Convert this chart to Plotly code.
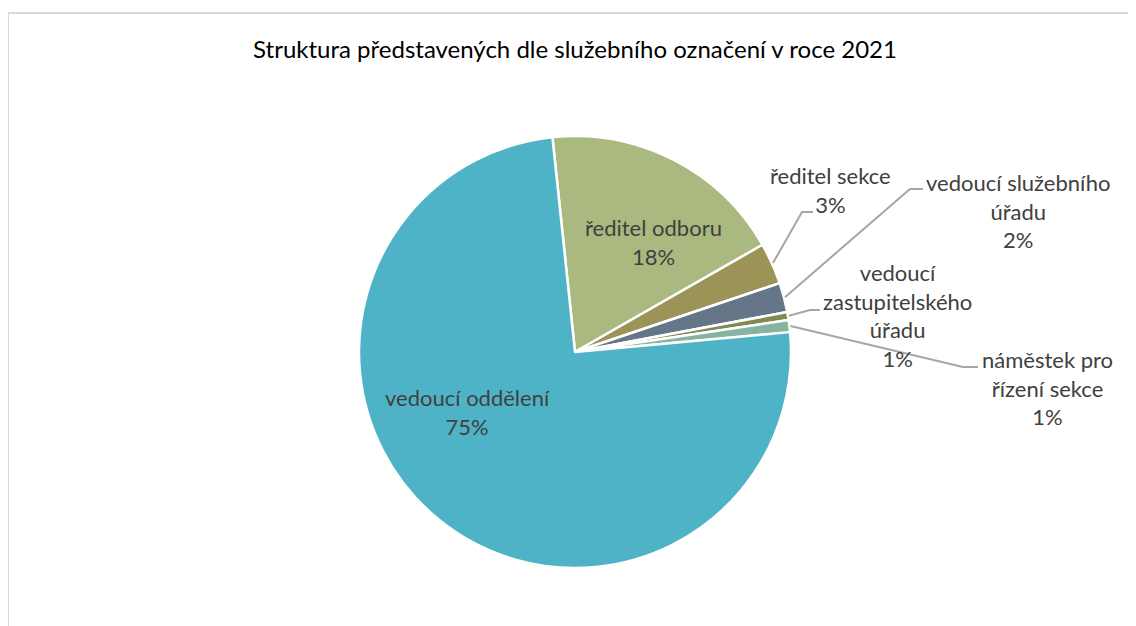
import math
import plotly.graph_objects as go

# ---- data ----
categories = [
    "ředitel odboru",
    "ředitel sekce",
    "vedoucí služebního úřadu",
    "vedoucí zastupitelského úřadu",
    "náměstek pro řízení sekce",
    "vedoucí oddělení",
]
values = [18.4, 3.1, 2.2, 0.6, 0.9, 74.8]
colors = ["#A9B97F", "#9C9456", "#657689", "#7F8B52", "#86B4A0", "#4FB3C8"]
title_text = "Struktura představených dle služebního označení v roce 2021"

# ---- layout geometry (pixels in the screenshot) ----
W, H = 1136, 626
OFF = 8  # page body margin
CX, CY, R = 575, 352, 216
ROT = -6

def px(x):
    return (x - OFF) / W

def py(y):
    return 1 - (y - OFF) / H

total = sum(values)
pcts = [v / total for v in values]

label_lines = {
    "ředitel odboru": "ředitel odboru",
    "ředitel sekce": "ředitel sekce",
    "vedoucí služebního úřadu": "vedoucí služebního<br>úřadu",
    "vedoucí zastupitelského úřadu": "vedoucí<br>zastupitelského<br>úřadu",
    "náměstek pro řízení sekce": "náměstek pro<br>řízení sekce",
    "vedoucí oddělení": "vedoucí oddělení",
}
label_pos = {
    "ředitel odboru": (653, 242),
    "ředitel sekce": (830, 190),
    "vedoucí služebního úřadu": (1018, 211),
    "vedoucí zastupitelského úřadu": (897, 316),
    "náměstek pro řízení sekce": (1047, 388),
    "vedoucí oddělení": (467, 412),
}
leader_elbow = {
    "ředitel sekce": ((802, 212), (813, 212)),
    "vedoucí služebního úřadu": ((910, 189), (923, 189)),
    "vedoucí zastupitelského úřadu": ((810, 310), (820, 310)),
    "náměstek pro řízení sekce": ((963, 367), (978, 367)),
}

fig = go.Figure(
    go.Pie(
        labels=categories,
        values=values,
        sort=False,
        direction="clockwise",
        rotation=ROT,
        marker=dict(colors=colors, line=dict(color="white", width=2.5)),
        textinfo="none",
        hoverinfo="label+percent",
        showlegend=False,
        domain=dict(x=[px(CX - R), px(CX + R)], y=[py(CY + R), py(CY - R)]),
    )
)

FONT = "Lato"
annotations = []
shapes = []
cum = 0.0
for cat, p in zip(categories, pcts):
    mid = math.radians(ROT + 360 * (cum + p / 2))
    cum += p
    lx, ly = label_pos[cat]
    annotations.append(dict(
        x=px(lx), y=py(ly), xref="paper", yref="paper",
        text=f"{label_lines[cat]}<br>{round(p * 100):.0f}%",
        showarrow=False, xanchor="center", yanchor="middle",
        font=dict(family=FONT, size=22, color="#404040"),
    ))
    if cat in leader_elbow:
        tx = CX + (R + 1) * math.sin(mid)
        ty = CY - (R + 1) * math.cos(mid)
        (ex, ey), (hx, hy) = leader_elbow[cat]
        path = f"M {px(tx)} {py(ty)} L {px(ex)} {py(ey)} L {px(hx)} {py(hy)}"
        shapes.append(dict(type="path", path=path, xref="paper", yref="paper",
                           line=dict(color="#A6A6A6", width=2)))

# chart border
shapes.append(dict(type="rect", xref="paper", yref="paper",
                   x0=px(8), y0=-0.2, x1=1.2, y1=py(13),
                   line=dict(color="#D9D9D9", width=2), fillcolor="rgba(0,0,0,0)"))

fig.update_layout(
    width=W, height=H,
    margin=dict(l=0, r=0, t=0, b=0),
    paper_bgcolor="white",
    plot_bgcolor="white",
    title=dict(text=title_text, x=px(575), xanchor="center", y=py(50), yanchor="middle",
               font=dict(family=FONT, size=24, color="#000000")),
    annotations=annotations,
    shapes=shapes,
)

fig.write_html("out.html")
